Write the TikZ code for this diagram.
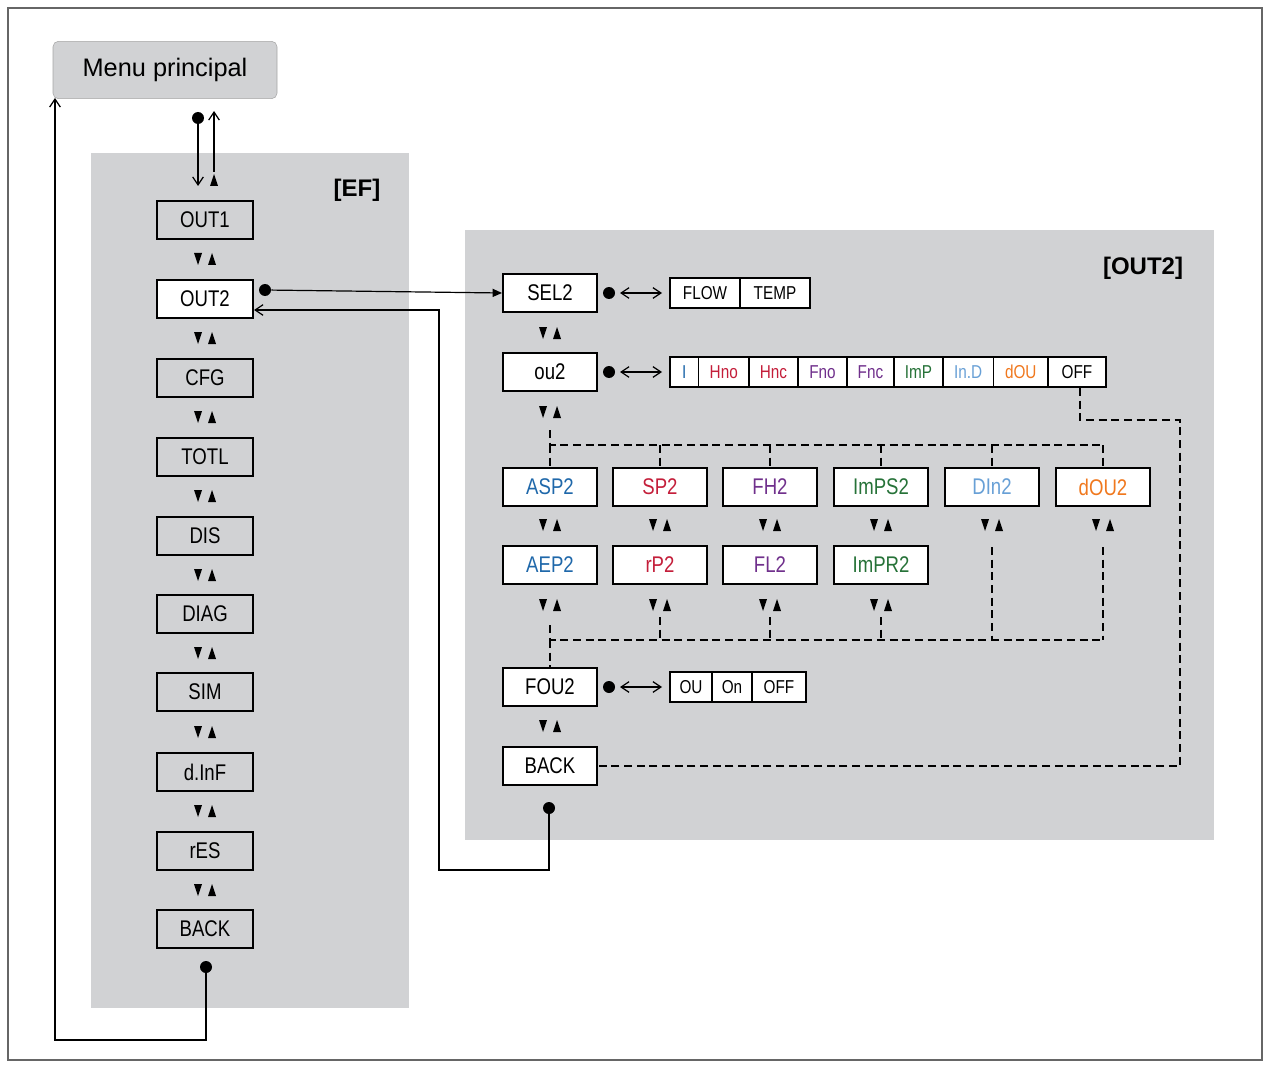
\documentclass[tikz,border=0pt]{standalone}
\usepackage{fontspec}
\setmainfont{Liberation Sans}
\newfontfamily\narrow[FakeStretch=0.82]{Liberation Sans}
\usetikzlibrary{arrows.meta}
\definecolor{pan}{RGB}{209,210,212}
\definecolor{cBlue}{RGB}{31,104,170}
\definecolor{cRed}{RGB}{196,30,58}
\definecolor{cPur}{RGB}{112,48,140}
\definecolor{cGrn}{RGB}{38,114,56}
\definecolor{cLBl}{RGB}{104,160,214}
\definecolor{cOrg}{RGB}{240,120,30}
\tikzset{
 mbox/.style={draw=black,line width=1.5pt,minimum width=70.5pt,minimum height=29pt,inner sep=0pt,font=\narrow\fontsize{17}{17}\selectfont},
 cell/.style={draw=black,line width=1.1pt,fill=white,minimum height=22.5pt,inner sep=0pt,font=\narrow\fontsize{14}{14}\selectfont},
 conn/.style={line width=0.9pt},
 dsh/.style={line width=1pt,dash pattern=on 6pt off 3.5pt},
 bar/.style={-{Straight Barb[length=6pt,width=8pt,line width=0.9pt]}},
 dbl/.style={{Straight Barb[length=6pt,width=8pt,line width=0.9pt]}-{Straight Barb[length=6pt,width=8pt,line width=0.9pt]}},
 dot/.style={fill=black,circle,inner sep=0pt,minimum size=9pt},
 updown/.pic={\fill (-11,-6)--(-3,-6)--(-7,6)--cycle; \fill (3,6)--(11,6)--(7,-6)--cycle;}
}
\begin{document}
\begin{tikzpicture}[x=0.75pt,y=-0.75pt]
\useasboundingbox (0,0) rectangle (1268,1070);
\draw[gray!80!black,line width=1.2pt] (8,8) rectangle (1262,1060);
\fill[pan] (91,153) rectangle (409,1008);
\fill[pan] (465,230) rectangle (1214,840);
\node[draw=gray!70,fill=pan,rounded corners=4pt,minimum width=168pt,minimum height=43pt,font=\fontsize{19}{19}\selectfont] (menu) at (165,70) {Menu principal};
\node[font=\bfseries\fontsize{18}{18}\selectfont] at (357,190) {[EF]};
\node[font=\bfseries\fontsize{18}{18}\selectfont] at (1143,268) {[OUT2]};
% left column
\foreach \n/\t/\y in {l1/OUT1/220,l2/OUT2/299,l3/CFG/378,l4/TOTL/457,l5/DIS/536,l6/DIAG/614,l7/SIM/692,l8/d.InF/772,l9/rES/851,l10/BACK/929}{
 \node[mbox,minimum width=72pt] (\n) at (205,\y) {\t};}
\node[mbox,minimum width=72pt,fill=white] at (205,299) {OUT2};
\foreach \y in {259,338,417,496,575,653,732,811,890}{\pic at (205,\y) {updown};}
\fill (210,186)--(218,186)--(214,174)--cycle;
\node[dot] (tdot) at (198,118) {};
\coordinate (tin) at (198,186);
\draw[conn,bar] (tdot) -- (tin);
\draw[conn,bar] (214,172) coordinate (tup0) -- (214,111);
\node[dot] (bdot) at (206,967) {};
\coordinate (mleft) at (55,98);
\draw[conn,bar] (bdot) |- (55,1040) -- (mleft);
% OUT2 submenu
\node[dot] (o2dot) at (265,290) {};
\node[mbox,fill=white] (sel) at (550,293) {SEL2};
\node[mbox,fill=white] (ou) at (550,372) {ou2};
\draw[conn,-{Triangle[length=7pt,width=6pt]}] (o2dot) -- (sel.west);
\node[dot] (rdot) at (549,808) {};
\node[mbox,fill=white] (bk) at (550,766) {BACK};
\node[mbox,fill=white] (fou) at (550,687) {FOU2};
\draw[conn,bar] (rdot) |- (439,870) |- (l2.east |- 0,310);
\foreach \y in {333,412,525,605,726}{\pic at (550,\y) {updown};}
\foreach \x in {660,770,881,992,1103}{\pic at (\x,525) {updown};}
\foreach \x in {660,770,881}{\pic at (\x,605) {updown};}
\foreach \n/\t/\x/\c in {a1/ASP2/550/cBlue,a2/SP2/660/cRed,a3/FH2/770/cPur,a4/ImPS2/881/cGrn,a5/DIn2/992/cLBl,a6/dOU2/1103/cOrg}{
 \node[mbox,fill=white,text=\c] (\n) at (\x,487) {\t};}
\foreach \n/\t/\x/\c in {b1/AEP2/550/cBlue,b2/rP2/660/cRed,b3/FL2/770/cPur,b4/ImPR2/881/cGrn}{
 \node[mbox,fill=white,text=\c] (\n) at (\x,565) {\t};}
% option strips
\newcommand\strip[2]{\foreach \l/\r/\t/\c in {#2}{\node[cell,text=\c,minimum width={(\r-\l)*0.75pt}] at ({(\l+\r)/2},#1) {\t};}}
\strip{293}{670/740/FLOW/black,740/810/TEMP/black}
\strip{372}{670/698.5/I/cBlue,698.5/749/Hno/cRed,749/798/Hnc/cRed,798/847/Fno/cPur,847/894/Fnc/cPur,894/943/ImP/cGrn,943/993.5/In.D/cLBl,993.5/1048/dOU/cOrg,1048/1106/OFF/black}
\strip{687}{670/712/OU/black,712/752/On/black,752/806/OFF/black}
\foreach \y/\n in {293/s,372/o,687/f}{
 \node[dot] (d\n) at (609,\y) {};
 \draw[conn,dbl] (620,\y) -- (662,\y);}
% dashed
\draw[dsh] (550,430) -- (550,445) -- (1103,445);
\foreach \n in {a1,a2,a3,a4,a5,a6}{\draw[dsh] (\n.north |- 0,445) -- (\n.north);}
\draw[dsh] (550,625) -- (550,640) -- (1103,640);
\foreach \x in {660,770,881}{\draw[dsh] (\x,617) -- (\x,640);}
\foreach \x in {992,1103}{\draw[dsh] (\x,547) -- (\x,640);}
\draw[dsh] (550,640) -- (fou.north);
\draw[dsh] (1080,388) -- (1080,420) -- (1180,420) -- (1180,766) -- (bk.east);
\end{tikzpicture}
\end{document}
